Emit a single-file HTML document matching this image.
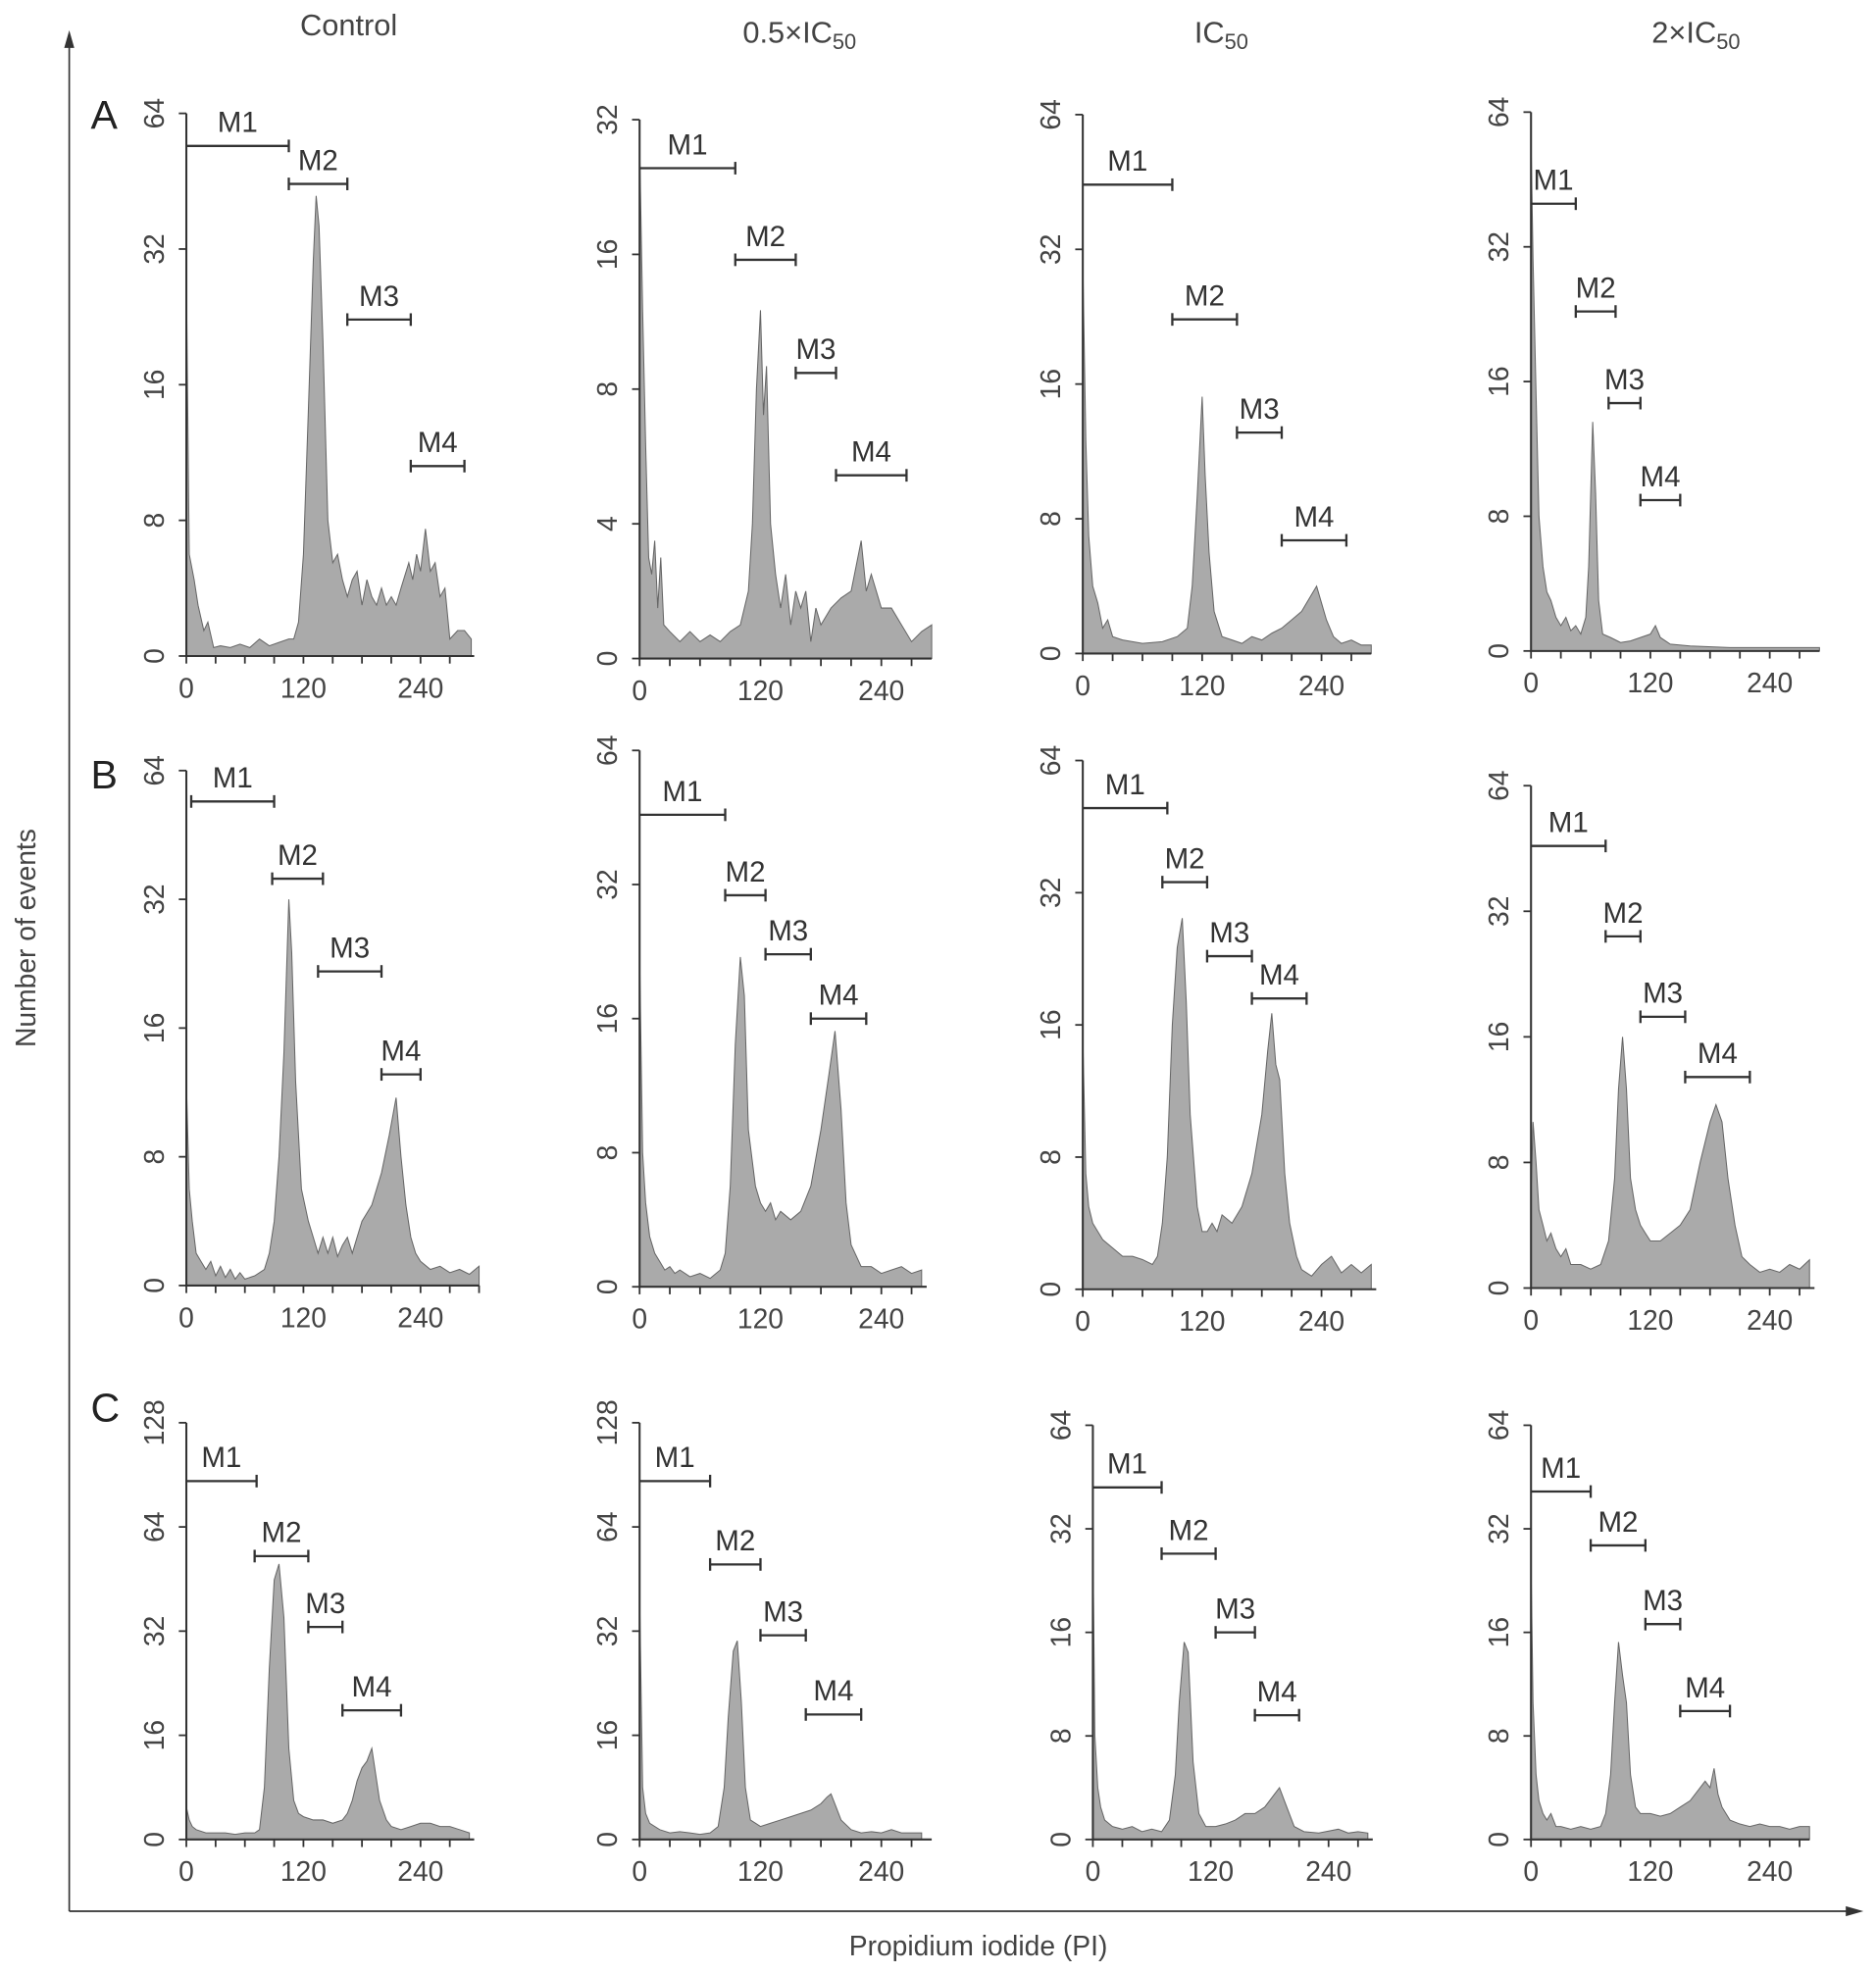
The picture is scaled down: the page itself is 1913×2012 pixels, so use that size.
<!DOCTYPE html>
<html><head><meta charset="utf-8"><style>
html,body{margin:0;padding:0;background:#fff;}
svg{display:block;font-family:"Liberation Sans",sans-serif;}
</style></head><body>
<svg id="fig" width="1913" height="2012" viewBox="0 0 1490 1567" xmlns="http://www.w3.org/2000/svg">
<g font-size="24" fill="#444" text-anchor="middle">
<text x="277" y="28">Control</text>
<text x="635" y="34">0.5×IC<tspan font-size="17" dy="5">50</tspan></text>
<text x="970" y="34">IC<tspan font-size="17" dy="5">50</tspan></text>
<text x="1347" y="34">2×IC<tspan font-size="17" dy="5">50</tspan></text>
</g>
<g font-size="32" fill="#222">
<text x="72" y="102">A</text>
<text x="72" y="626">B</text>
<text x="72" y="1129">C</text>
</g>
<g stroke="#333" stroke-width="1.3" fill="#333">
<line x1="55" y1="1518" x2="55" y2="34"/>
<polygon points="55,24 51,38 59,38" stroke="none"/>
<line x1="55" y1="1518" x2="1470" y2="1518"/>
<polygon points="1480,1518 1466,1514 1466,1522" stroke="none"/>
</g>
<text x="28" y="745" transform="rotate(-90 28 745)" font-size="22" fill="#444" text-anchor="middle">Number of events</text>
<text x="777" y="1553" font-size="22" fill="#444" text-anchor="middle">Propidium iodide (PI)</text>
<g id="panels"></g>
</svg>
<script>
const panelNames=["A1","A2","A3","A4","B1","B2","B3","B4","C1","C2","C3","C4"];
const yTick1=[8,4,8,8, 8,8,8,8, 16,16,8,8];
const xTickLabels=[0,120,240];
const markerNames=["M1","M2","M3","M4"];
const A1x=[0,3,8,12,18,22,28,35,45,55,65,75,85,95,105,110,115,120,125,130,133,136,140,145,150,155,160,165,170,175,180,185,190,195,200,205,210,215,220,228,232,236,240,245,250,255,260,265,270,278,285,292];
const A1y=[28,6,4.5,3,1.5,2,0.5,0.6,0.5,0.7,0.5,1,0.6,0.8,1,1,2,6,14,30,42,36,20,8,5.5,6,4.5,3.5,4.5,5,3,4.5,3.5,3,4,3,3.5,3,4,5.5,4.5,6,5,7.5,5,5.5,3.5,4,1,1.5,1.5,1];
const A2x=[0,3,6,9,12,15,18,21,24,30,40,50,60,70,80,90,100,108,112,116,120,123,126,130,135,140,145,150,155,160,165,170,175,180,190,200,210,220,225,230,240,250,260,270,280,290];
const A2y=[28,12,6,3,2.5,3.5,1.5,3,1,0.8,0.5,0.8,0.5,0.7,0.5,0.8,1,2,4,8,12,7,9,4,2.5,1.5,2.5,1,2,1.5,2,0.5,1.5,1,1.5,1.8,2,3.5,2,2.5,1.5,1.5,1,0.5,0.8,1];
const A3x=[0,3,6,10,15,20,25,30,40,60,80,95,105,110,115,120,123,127,132,140,150,160,170,180,190,200,210,220,230,235,240,245,252,260,270,280,290];
const A3y=[30,12,7,4,3,1.5,2,1,0.8,0.6,0.7,1,1.5,4,9,15,10,6,2.5,1,0.8,0.6,1,0.8,1.2,1.5,2,2.5,3.5,4,3,2,1,0.6,0.8,0.5,0.5];
const A4x=[0,2,5,8,12,16,20,25,30,35,40,45,50,55,58,62,65,68,72,80,90,100,110,120,125,130,140,160,200,240,290];
const A4y=[55,30,15,8,5,3.5,3,2,1.5,2,1.2,1.5,1,2,5,13,9,3,1,0.8,0.5,0.6,0.8,1,1.5,0.8,0.4,0.3,0.2,0.2,0.2];
const B1x=[0,3,6,10,15,20,25,30,35,40,45,50,55,60,70,80,85,90,95,100,105,108,112,118,125,130,135,140,145,150,155,160,165,170,175,180,185,190,200,208,215,220,225,230,235,240,250,260,270,280,290,300];
const B1y=[12,6,4,2,1.5,1,1.5,0.6,1.2,0.5,1,0.4,0.8,0.4,0.6,1,2,4,8,14,32,24,12,6,4,3,2,3,2,3,1.8,2.5,3,2,3,4,4.5,5,7,9,11,8,5,3,2,1.5,1,1.2,0.8,1,0.7,1.2];
const B2x=[0,3,6,10,15,20,25,30,35,40,50,60,70,80,85,90,95,100,104,108,115,120,125,130,135,140,150,160,170,180,188,194,200,205,210,220,230,240,250,260,270,280];
const B2y=[22,8,5,3,2,1.5,1,1.2,0.8,1,0.6,0.8,0.5,1,2,6,14,22,18,9,6,5,4.5,5,4,4.5,4,4.5,6,9,12,15,10,5,2.5,1.2,1.2,0.8,1,1.2,0.8,1];
const B3x=[0,3,6,10,15,20,30,40,50,60,70,75,80,85,90,95,100,104,108,115,120,125,130,135,140,150,160,170,180,186,190,194,198,203,208,215,220,230,240,250,260,270,280,290];
const B3y=[15,7,5,4,3.5,3,2.5,2,2,1.8,1.5,2,4,8,16,24,28,18,10,5,3.5,3.5,4,3.5,4.5,4,5,7,10,14,17,13,12,7,4,2,1.2,0.8,1.5,2,1,1.5,1,1.5];
const B4x=[0,2,5,8,12,16,20,25,30,35,40,50,60,70,78,84,88,92,96,100,105,110,115,120,130,140,150,160,170,180,186,192,198,205,212,220,230,240,250,260,270,280];
const B4y=[6,10,8,5,4,3,3.5,2.5,2,2.5,1.5,1.5,1.2,1.5,3,7,12,16,12,7,5,4,3.5,3,3,3.5,4,5,8,10,11,10,7,4,2,1.5,1,1.2,1,1.5,1.2,1.8];
const C1x=[0,3,6,10,20,30,40,50,60,70,75,80,85,90,95,100,105,110,115,120,130,140,150,160,165,170,175,180,185,190,194,198,205,210,220,230,240,250,260,270,280,290];
const C1y=[5,3,2,1.5,1,1,1,0.8,1,1,1.5,8,25,45,50,35,14,6,4,3.5,3,3,2.5,3,4,6,9,11,12,14,10,6,3,2,1.5,2,2.5,2.5,2,2,1.5,1];
const C2x=[0,3,6,10,15,20,30,40,50,60,70,78,84,88,93,97,101,105,110,120,130,140,150,160,170,180,186,190,195,200,210,220,230,240,250,260,270,280];
const C2y=[40,8,4,2.5,2,1.5,1,1.2,1,0.8,1,2,8,18,28,30,20,8,3,2,2.5,3,3.5,4,4.5,5.5,6.5,7,5,3,1.5,1,1.2,1,1.5,1,1,1];
const C3x=[0,2,5,8,12,20,30,40,50,60,70,78,84,88,93,97,102,108,115,125,135,145,155,165,175,185,190,195,200,205,215,230,250,260,270,280];
const C3y=[30,8,4,2.5,1.5,1,0.8,1,0.6,0.8,0.6,1.5,5,10,15,14,6,2,1,1,1.2,1.5,2,2,2.5,3.5,4,3,2,1,0.6,0.5,0.8,0.5,0.6,0.5];
const C4x=[0,2,5,8,12,16,20,25,30,40,50,60,70,75,80,84,88,92,96,100,105,110,120,130,140,150,160,170,175,180,184,188,192,200,210,220,230,240,250,260,270,280];
const C4y=[25,10,5,3,2,1.5,2,1,1,0.8,1,0.8,1,2,5,10,15,12,10,5,2.5,2,2,1.8,2,2.5,3,4,4.5,4,5.5,3.5,2.5,1.5,1.2,1,1.2,1,1,0.8,1,1];
const M_start=[[0,105,165,230],[0,95,155,195],[0,90,155,200],[0,45,78,110],[5,88,135,200],[0,85,125,170],[0,80,125,170],[0,75,110,155],[0,70,125,160],[0,70,120,165],[0,70,125,165],[0,60,115,150]];
const M_end=[[105,165,230,285],[95,155,195,265],[90,155,200,265],[45,85,110,150],[90,140,200,240],[85,125,170,225],[85,125,170,225],[75,110,155,220],[72,125,160,220],[70,120,165,220],[70,125,165,210],[60,115,150,200]];
const histX=[A1x,A2x,A3x,A4x,B1x,B2x,B3x,B4x,C1x,C2x,C3x,C4x];
const histY=[A1y,A2y,A3y,A4y,B1y,B2y,B3y,B4y,C1y,C2y,C3y,C4y];

const L={
 x0:[148,508,860,1216,148,508,860,1216,148,508,868,1216],
 ppu:[0.775,0.8,0.79,0.79,0.775,0.8,0.79,0.79,0.775,0.8,0.78,0.79],
 xmax:[295,290,290,290,300,285,295,285,295,290,285,280],
 y0:[521,523,519,517,1021,1022,1024,1023,1461,1461,1461,1461],
 top:[90,95,91,89,612,596,604,624,1130,1130,1132,1132],
 mf:[[0.94,0.87,0.62,0.35],[0.91,0.74,0.53,0.34],[0.87,0.62,0.41,0.21],[0.83,0.63,0.46,0.28],[0.94,0.79,0.61,0.41],[0.88,0.73,0.62,0.50],[0.91,0.77,0.63,0.55],[0.88,0.70,0.54,0.42],[0.86,0.68,0.51,0.31],[0.86,0.66,0.49,0.30],[0.85,0.69,0.50,0.30],[0.84,0.71,0.52,0.31]]
};
const NS="http://www.w3.org/2000/svg";
function mk(tag,attrs,parent){const e=document.createElementNS(NS,tag);for(const k in attrs)e.setAttribute(k,attrs[k]);parent.appendChild(e);return e;}
const root=document.getElementById('panels');
panelNames.forEach((nm,i)=>{
  const x0=L.x0[i],ppu=L.ppu[i],y0=L.y0[i],top=L.top[i],h=y0-top,seg=h/4,t1=yTick1[i];
  const xs=v=>x0+v*ppu;
  const ys=v=>{let y; if(v<=t1) y=y0-v/t1*seg; else y=y0-seg*(1+Math.log2(v/t1)); return Math.max(top-30,y);};
  const g=mk('g',{},root);
  
  
  let d='M'+xs(histX[i][0])+','+y0;
  histX[i].forEach((x,k)=>{d+=' L'+xs(x).toFixed(1)+','+ys(histY[i][k]).toFixed(1);});
  d+=' L'+xs(histX[i][histX[i].length-1]).toFixed(1)+','+y0+' Z';
  const area=mk('path',{d:d,fill:'#aaaaaa',stroke:'#666','stroke-width':'0.8'},g);
  
  
  const ax=mk('path',{d:'M'+x0+','+top+' L'+x0+','+y0+' L'+xs(L.xmax[i])+','+y0,fill:'none',stroke:'#333','stroke-width':'1.6'},g);
  
  
  [0,t1,2*t1,4*t1,8*t1].forEach(v=>{
    const y=ys(v);
    mk('line',{x1:x0-6,x2:x0,y1:y,y2:y,stroke:'#333','stroke-width':'1.4'},g);
    const t=mk('text',{x:x0-18,y:y,transform:'rotate(-90 '+(x0-18)+' '+y+')','text-anchor':'middle','font-size':'22',fill:'#444'},g);
    t.textContent=v;
    
    
  });
  for(let v=0;v<=L.xmax[i];v+=30){
    mk('line',{x1:xs(v),x2:xs(v),y1:y0,y2:y0+6,stroke:'#333','stroke-width':'1.4'},g);
  }
  xTickLabels.forEach(v=>{
    const t=mk('text',{x:xs(v),y:y0+33,'text-anchor':'middle','font-size':'22',fill:'#444'},g);
    t.textContent=v;
    
    
  });
  markerNames.forEach((m,k)=>{
    const xa=xs(M_start[i][k]),xb=xs(M_end[i][k]),y=y0-L.mf[i][k]*h;
    const mg=mk('g',{stroke:'#333','stroke-width':'1.8'},g);
    
    
    mk('line',{x1:xa,x2:xb,y1:y,y2:y},mg);
    if(M_start[i][k]>0) mk('line',{x1:xa,x2:xa,y1:y-5,y2:y+5},mg);
    mk('line',{x1:xb,x2:xb,y1:y-5,y2:y+5},mg);
    const t=mk('text',{x:(xa+xb)/2,y:y-11,'text-anchor':'middle','font-size':'23',fill:'#333',stroke:'none'},mg);
    t.textContent=m;
  });
});
</script>
</body></html>
